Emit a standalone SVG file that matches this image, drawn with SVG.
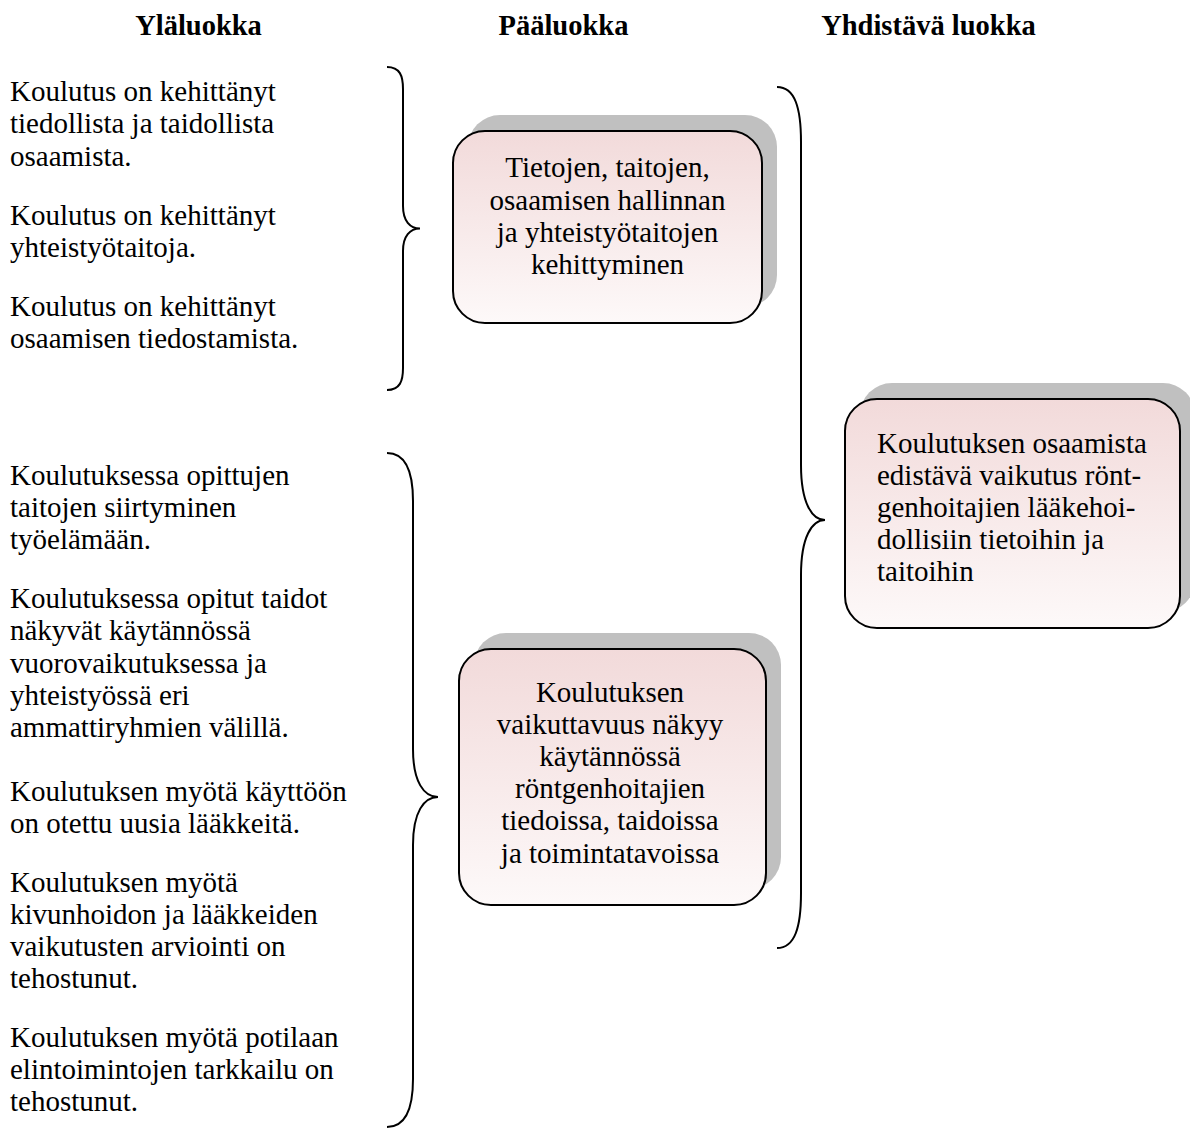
<svg xmlns="http://www.w3.org/2000/svg" width="1190" height="1129" viewBox="0 0 1190 1129">
<defs>
<linearGradient id="pink" x1="0" y1="0" x2="0" y2="1">
<stop offset="0" stop-color="#f2dada"/>
<stop offset="1" stop-color="#fdf9f9"/>
</linearGradient>
<style>
text{font-family:"Liberation Serif","Times New Roman",serif;font-size:29px;fill:#000}
.h{font-weight:bold;font-size:28.5px;text-anchor:middle}
.c{text-anchor:middle}
.box{fill:url(#pink);stroke:#000;stroke-width:2}
.sh{fill:#c0c0c0}
.br{fill:none;stroke:#000;stroke-width:2}
</style>
</defs>
<rect width="1190" height="1129" fill="#fff"/>
<g id="headers">
<text class="h" x="198.5" y="35">Yläluokka</text>
<text class="h" x="563.5" y="35">Pääluokka</text>
<text class="h" x="928.5" y="35">Yhdistävä luokka</text>
</g>
<g id="group1">
<text x="10" y="101">Koulutus on kehittänyt</text>
<text x="10" y="133">tiedollista ja taidollista</text>
<text x="10" y="166">osaamista.</text>
<text x="10" y="225">Koulutus on kehittänyt</text>
<text x="10" y="257">yhteistyötaitoja.</text>
<text x="10" y="316">Koulutus on kehittänyt</text>
<text x="10" y="348">osaamisen tiedostamista.</text>
</g>
<g id="group2">
<text x="10" y="485">Koulutuksessa opittujen</text>
<text x="10" y="517">taitojen siirtyminen</text>
<text x="10" y="549">työelämään.</text>
<text x="10" y="608">Koulutuksessa opitut taidot</text>
<text x="10" y="640">näkyvät käytännössä</text>
<text x="10" y="673">vuorovaikutuksessa ja</text>
<text x="10" y="705">yhteistyössä eri</text>
<text x="10" y="737">ammattiryhmien välillä.</text>
<text x="10" y="801">Koulutuksen myötä käyttöön</text>
<text x="10" y="833">on otettu uusia lääkkeitä.</text>
<text x="10" y="892">Koulutuksen myötä</text>
<text x="10" y="924">kivunhoidon ja lääkkeiden</text>
<text x="10" y="956">vaikutusten arviointi on</text>
<text x="10" y="988">tehostunut.</text>
<text x="10" y="1047">Koulutuksen myötä potilaan</text>
<text x="10" y="1079">elintoimintojen tarkkailu on</text>
<text x="10" y="1111">tehostunut.</text>
</g>
<g id="connectors">
<path class="br" d="M387,67 C400,67 403,76 403,89 L403,206 C403,221 410,228.5 420,228.5 C410,228.5 403,236 403,251 L403,368 C403,381 400,390 387,390"/>
<path class="br" d="M387,453 C406,453 413,472 413,501 L413,749 C413,782 424,797 438,797 C424,797 413,812 413,845 L413,1079 C413,1108 406,1127 387,1127"/>
<path class="br" d="M777,87 C795,87 801,108 801,142 L801,465 C801,503 812,520 825,520 C812,520 801,537 801,575 L801,893 C801,927 795,948 777,948"/>
</g>
<g id="node1">
<rect class="sh" x="468" y="115" width="309" height="192" rx="32"/>
<rect class="box" x="453" y="131" width="309" height="192" rx="32"/>
<text class="c" x="607.5" y="177">Tietojen, taitojen,</text>
<text class="c" x="607.5" y="210">osaamisen hallinnan</text>
<text class="c" x="607.5" y="242">ja yhteistyötaitojen</text>
<text class="c" x="607.5" y="274">kehittyminen</text>
</g>
<g id="node2">
<rect class="sh" x="474" y="633" width="307" height="256" rx="32"/>
<rect class="box" x="459" y="649" width="307" height="256" rx="32"/>
<text class="c" x="610" y="702">Koulutuksen</text>
<text class="c" x="610" y="734">vaikuttavuus näkyy</text>
<text class="c" x="610" y="766">käytännössä</text>
<text class="c" x="610" y="798">röntgenhoitajien</text>
<text class="c" x="610" y="830">tiedoissa, taidoissa</text>
<text class="c" x="610" y="863">ja toimintatavoissa</text>
</g>
<g id="node3">
<rect class="sh" x="860" y="383" width="335" height="229" rx="32"/>
<rect class="box" x="845" y="399" width="335" height="229" rx="32"/>
<text x="877" y="453">Koulutuksen osaamista</text>
<text x="877" y="485">edistävä vaikutus rönt-</text>
<text x="877" y="517">genhoitajien lääkehoi-</text>
<text x="877" y="549">dollisiin tietoihin ja</text>
<text x="877" y="581">taitoihin</text>
</g>
</svg>
